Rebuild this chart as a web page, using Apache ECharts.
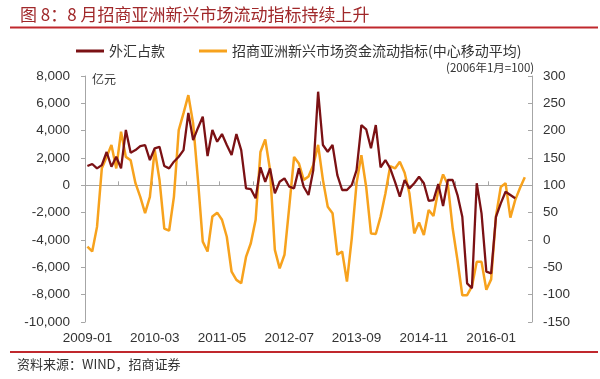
<!DOCTYPE html>
<html>
<head>
<meta charset="utf-8">
<script src="https://cdn.jsdelivr.net/npm/echarts@6/dist/echarts.min.js"></script>
<style>html,body{margin:0;padding:0;background:#fff}#c{width:600px;height:379px}</style>
</head>
<body>
<div id="c"></div>
<script>
// categories: monthly from 2009-01 (93 slots, data to 2016-08)
const categories = [];
for (let i = 0; i < 93; i++) {
  const y = 2009 + Math.floor(i / 12), m = (i % 12) + 1;
  categories.push(y + '-' + (m < 10 ? '0' + m : m));
}
const seriesNames = ['外汇占款', '招商亚洲新兴市场资金流动指标(中心移动平均)'];
// 外汇占款 (亿元), left axis
const fxReserve = [1410,1560,1240,1480,2440,1360,2090,1240,4050,2390,
  2580,2870,2950,1850,2710,2820,1410,1240,1730,2090,
  2580,5300,3310,4200,5020,2140,4050,3190,3750,2950,
  2220,3750,2580,-220,-270,-950,1320,260,1240,-590,
  260,510,-100,-220,1240,-100,-710,1120,6850,2950,
  2460,2950,750,-340,-340,20,1120,4410,4100,2710,
  4410,1320,1850,1240,260,-830,390,-220,150,630,
  150,-1130,-1080,100,-1510,390,390,-710,-2300,-7170,
  -7530,150,-2050,-6320,-6440,-2300,-1320,-470,-710,-950];
// 资金流动指标 (2006年1月=100), right axis
const flowIndex = [-12,-21,24,131,152,174,131,198,152,146,
  104,79,49,79,165,110,21,17,79,201,
  232,265,213,110,-3,-21,43,50,37,6,
  -58,-73,-79,-31,-6,37,161,184,128,-18,
  -52,-27,61,152,140,110,116,137,174,110,
  61,49,-27,-21,-76,3,104,155,97,12,
  11,43,85,135,131,143,123,85,12,32,
  9,55,44,91,120,101,21,-37,-101,-101,
  -85,-40,-40,-91,-72,43,97,104,41,73,
  95,115];
const leftAxis = {min: -10000, max: 8000, interval: 2000};
const rightAxis = {min: -150, max: 300, interval: 50};

const numFont = 'Liberation Sans, Arial, sans-serif';
const cjkFont = 'Noto Sans CJK SC, sans-serif';
const chart = echarts.init(document.getElementById('c'));
chart.setOption({
  animation: false,
  backgroundColor: '#fff',
  title: {
    text: '图 8：8 月招商亚洲新兴市场流动指标持续上升',
    left: 15, top: 1,
    textStyle: {fontSize: 17, fontWeight: 'normal', color: '#A0282A', fontFamily: cjkFont}
  },
  legend: {
    data: seriesNames,
    left: 71, top: 39,
    icon: 'rect', itemWidth: 28, itemHeight: 3, itemGap: 34,
    textStyle: {fontSize: 14, color: '#333', fontFamily: cjkFont}
  },
  grid: {left: 85, right: 68, top: 76, bottom: 57},
  xAxis: [
    {
      type: 'category', data: categories, boundaryGap: true, position: 'bottom',
      axisLine: {show: false}, axisTick: {show: false}, splitLine: {show: false},
      axisLabel: {interval: 13, margin: 9, fontSize: 13.5, color: '#333', fontFamily: numFont}
    },
    {
      type: 'category', data: categories, boundaryGap: true, position: 'bottom',
      axisLine: {show: true, onZero: true, onZeroAxisIndex: 0, lineStyle: {color: '#A6A6A6', width: 1}},
      axisTick: {show: true, inside: true, interval: 6, length: 4, lineStyle: {color: '#A6A6A6'}},
      axisLabel: {show: false}, splitLine: {show: false}
    }
  ],
  yAxis: [
    {
      type: 'value', min: leftAxis.min, max: leftAxis.max, interval: leftAxis.interval,
      axisLine: {show: true, lineStyle: {color: '#A6A6A6'}},
      axisTick: {show: true, length: 4, lineStyle: {color: '#A6A6A6'}},
      splitLine: {show: false},
      axisLabel: {margin: 15, fontSize: 13.5, color: '#333', fontFamily: numFont,
        formatter: v => v.toLocaleString('en-US')}
    },
    {
      type: 'value', min: rightAxis.min, max: rightAxis.max, interval: rightAxis.interval,
      position: 'right',
      axisLine: {show: true, lineStyle: {color: '#A6A6A6'}},
      axisTick: {show: true, inside: true, length: 4, lineStyle: {color: '#A6A6A6'}},
      splitLine: {show: false},
      axisLabel: {margin: 11, fontSize: 13.5, color: '#333', fontFamily: numFont}
    }
  ],
  series: [
    {
      name: seriesNames[0], type: 'line', data: fxReserve, xAxisIndex: 0, yAxisIndex: 0,
      showSymbol: false, z: 3,
      lineStyle: {color: '#7B1114', width: 2.3}, itemStyle: {color: '#7B1114'}
    },
    {
      name: seriesNames[1], type: 'line', data: flowIndex, xAxisIndex: 0, yAxisIndex: 1,
      showSymbol: false, z: 2,
      lineStyle: {color: '#F7A21D', width: 2.5}, itemStyle: {color: '#F7A21D'}
    }
  ],
  graphic: [
    {type: 'line', shape: {x1: 10, y1: 27.5, x2: 598, y2: 27.5}, style: {stroke: '#C0282D', lineWidth: 2}},
    {type: 'line', shape: {x1: 10, y1: 352, x2: 598, y2: 352}, style: {stroke: '#C0282D', lineWidth: 2}},
    {type: 'text', left: 92, top: 73, style: {text: '亿元', fill: '#333', font: '12px ' + cjkFont}},
    {type: 'text', left: 446, top: 62, style: {text: '(2006年1月=100)', fill: '#333', font: '11.5px ' + cjkFont}},
    {type: 'text', left: 17, top: 358, style: {text: '资料来源：WIND，招商证券', fill: '#333', font: '13px ' + cjkFont}}
  ]
});
</script>
</body>
</html>
